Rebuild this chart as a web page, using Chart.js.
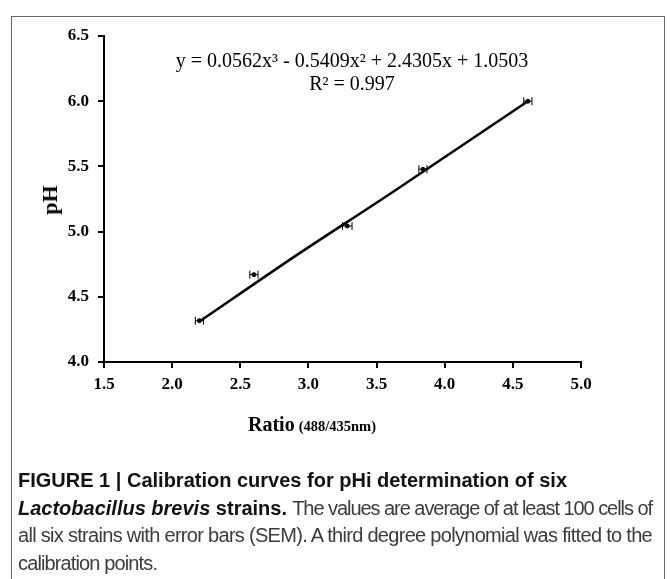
<!DOCTYPE html>
<html>
<head>
<meta charset="utf-8">
<script src="https://cdn.jsdelivr.net/npm/chart.js@4"></script>
<style>
  html, body { margin:0; padding:0; background:#fff; }
  #wrap { position:relative; width:670px; height:579px; overflow:hidden; }
  #c { position:absolute; left:0; top:0; }
  .frame { position:absolute; left:11px; top:16px; width:652px; height:620px; border:1px solid #666; border-bottom:none; }
  .ser { position:absolute; font-family:'Liberation Serif','Times New Roman',serif; color:#000; white-space:nowrap; }
  .eq { font-size:20px; transform:translateX(-50%); }
  .cap { position:absolute; left:18px; top:467px; font-family:'Liberation Sans',Arial,sans-serif; font-size:20px; line-height:27.5px; color:#3c3c3c; white-space:nowrap; }
  .cap .ln { display:inline-block; }
  .cap b { color:#111; }
</style>
</head>
<body>
<div id="wrap">
  <div class="frame"></div>
  <canvas id="c" width="670" height="579"></canvas>
  <div class="ser eq" style="left:352px; top:49px;">y = 0.0562x³ - 0.5409x² + 2.4305x + 1.0503</div>
  <div class="ser eq" style="left:352px; top:72px;">R² = 0.997</div>
  <div class="ser" style="left:50px; top:200px; font-size:22px; font-weight:bold; transform:translate(-50%,-50%) rotate(-90deg);">pH</div>
  <div class="ser" style="left:248px; top:413px; font-weight:bold;"><span style="font-size:20px;">Ratio</span> <span style="font-size:14.5px;">(488/435nm)</span></div>
  <div class="cap">
    <span class="ln" id="l1"><b>FIGURE 1 | Calibration curves for pHi determination of six</b></span><br>
    <span class="ln" id="l2"><b><i>Lactobacillus brevis</i> strains.</b> <span class="nm">The values are average of at least 100 cells of</span></span><br>
    <span class="ln" id="l3"><span class="nm">all six strains with error bars (SEM). A third degree polynomial was fitted to the</span></span><br>
    <span class="ln" id="l4"><span class="nm">calibration points.</span></span>
  </div>
</div>
<script>
// Data
const ratio = [2.20, 2.60, 3.285, 3.84, 4.61];
const pH    = [4.317, 4.67, 5.043, 5.478, 6.0];
const ratioSEM = [0.03, 0.03, 0.035, 0.03, 0.03];
// fitted curve
const fitRatio = [2.20, 2.90, 3.60, 4.61];
const fitPH    = [4.31, 4.81, 5.29, 6.0];
const xTicks = [1.5, 2.0, 2.5, 3.0, 3.5, 4.0, 4.5, 5.0];
const yTicks = [4.0, 4.5, 5.0, 5.5, 6.0, 6.5];

// fit caption lines to the reference line widths (normal-weight text only)
function fitLine(id, target) {
  const line = document.getElementById(id);
  const nm = line.querySelector('.nm');
  const w = line.getBoundingClientRect().width;
  const ls = (target - w) / nm.textContent.length;
  nm.style.letterSpacing = ls.toFixed(2) + 'px';
  return ls;
}
const l1 = document.getElementById('l1');
const ls2 = fitLine('l2', 634);
const ls3 = fitLine('l3', 634);
document.querySelector('#l4 .nm').style.letterSpacing = ((ls2 + ls3) / 2).toFixed(2) + 'px';

const pts = ratio.map((x, i) => ({ x: x, y: pH[i] }));
const fitPts = fitRatio.map((x, i) => ({ x: x, y: fitPH[i] }));

const errorBars = {
  id: 'errorBars',
  afterDatasetsDraw(chart) {
    const ctx = chart.ctx;
    const xs = chart.scales.x, ys = chart.scales.y;
    ctx.save();
    ctx.strokeStyle = '#000';
    ctx.lineWidth = 1;
    ratio.forEach((x, i) => {
      const y = ys.getPixelForValue(pH[i]);
      const x0 = xs.getPixelForValue(x - ratioSEM[i]);
      const x1 = xs.getPixelForValue(x + ratioSEM[i]);
      ctx.beginPath();
      ctx.moveTo(x0, y); ctx.lineTo(x1, y);
      ctx.moveTo(x0, y - 4); ctx.lineTo(x0, y + 4);
      ctx.moveTo(x1, y - 4); ctx.lineTo(x1, y + 4);
      ctx.stroke();
    });
    ctx.restore();
  }
};

const tickFont = { family: "'Liberation Serif','Times New Roman',serif", size: 17, weight: 'bold' };

new Chart(document.getElementById('c'), {
  type: 'scatter',
  data: {
    datasets: [
      {
        label: 'fit',
        data: fitPts,
        showLine: true,
        borderColor: '#000',
        borderWidth: 2.5,
        pointRadius: 0,
        tension: 0.3,
        fill: false
      },
      {
        label: 'pH',
        data: pts,
        showLine: false,
        pointRadius: 2,
        pointBackgroundColor: '#000',
        pointBorderColor: '#000'
      }
    ]
  },
  options: {
    responsive: false,
    animation: false,
    layout: { padding: { left: 0, top: 36, right: 89, bottom: 0 } },
    plugins: { legend: { display: false }, tooltip: { enabled: false } },
    scales: {
      x: {
        type: 'linear', min: 1.5, max: 5.0,
        afterBuildTicks: s => { s.ticks = xTicks.map(v => ({ value: v })); },
        ticks: { callback: v => Number(v).toFixed(1), font: tickFont, color: '#000', padding: 6, maxRotation: 0 },
        grid: { display: true, drawOnChartArea: false, drawTicks: true, tickLength: 6, color: '#000', lineWidth: 2 },
        border: { display: true, color: '#000', width: 2 },
        afterFit: s => { s.height = 217; }
      },
      y: {
        type: 'linear', min: 4.0, max: 6.5,
        afterBuildTicks: s => { s.ticks = yTicks.map(v => ({ value: v })); },
        ticks: { callback: v => Number(v).toFixed(1), font: tickFont, color: '#000', padding: 9 },
        grid: { display: true, drawOnChartArea: false, drawTicks: true, tickLength: 6, color: '#000', lineWidth: 2 },
        border: { display: true, color: '#000', width: 2 },
        afterFit: s => { s.width = 104; }
      }
    }
  },
  plugins: [errorBars]
});
</script>
</body>
</html>
